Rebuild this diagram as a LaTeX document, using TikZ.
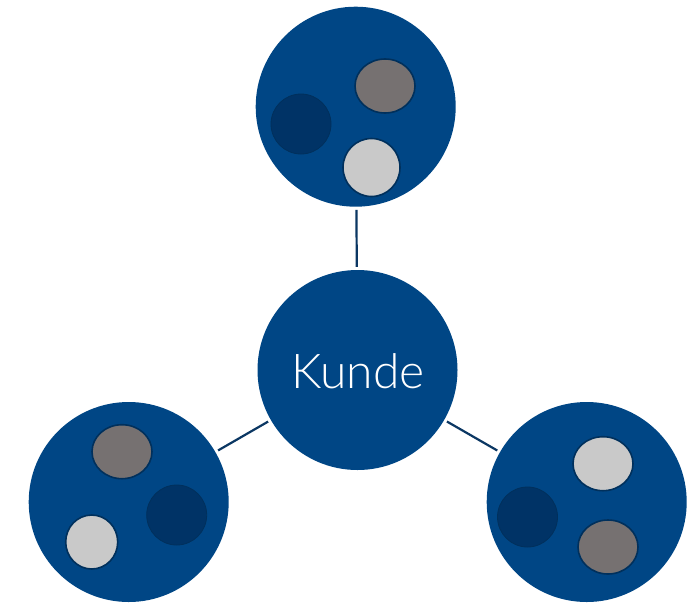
\documentclass[tikz,border=0pt]{standalone}
\usepackage{fontspec}
\newfontfamily\kfont{Lato}[UprightFont={* Light}]
\definecolor{mainblue}{HTML}{004685}
\definecolor{darkblue}{HTML}{003366}
\definecolor{rimblue}{HTML}{00305C}
\definecolor{midgray}{HTML}{767171}
\definecolor{lightgray}{HTML}{C9C9C9}
\definecolor{linkblue}{HTML}{0B3763}
\usetikzlibrary{shapes.geometric}
\begin{document}
\begin{tikzpicture}[x=1pt,y=-1pt,
  big/.style={circle,fill=mainblue,minimum size=200pt,inner sep=0pt},
  darkdot/.style={circle,fill=darkblue,draw=rimblue,line width=0.8pt,minimum size=60pt,inner sep=0pt},
  graydot/.style={ellipse,fill=midgray,draw=rimblue,line width=1.6pt,minimum width=60pt,minimum height=54pt,inner sep=0pt},
  lightdot/.style={ellipse,fill=lightgray,draw=rimblue,line width=1.6pt,minimum width=57pt,minimum height=58pt,inner sep=0pt},
  link/.style={draw=linkblue,line width=2.2pt,shorten <=3pt,shorten >=3pt}]
\useasboundingbox (0,0) rectangle (687,603);
% big circles
\node[big] (top) at (355.7,106.7) {};
\node[big] (ctr) at (357.5,370) {};
\node[big] (bl) at (128.7,502) {};
\node[big] (br) at (586.7,502) {};
\node[text=white,font=\kfont\fontsize{48}{50}\selectfont] (lbl) at (358,371) {Kunde};
% connectors
\draw[link] (top) -- (ctr);
\draw[link] (ctr) -- (bl);
\draw[link] (ctr) -- (br);
% top small circles
\node[darkdot] (t1) at (301,124) {};
\node[graydot] (t2) at (385,86) {};
\node[lightdot,minimum width=57pt,minimum height=58pt] (t3) at (371.5,167.5) {};
% bottom-left small circles
\node[graydot] (l1) at (122,451.7) {};
\node[darkdot] (l2) at (176.7,515) {};
\node[lightdot,minimum width=52pt,minimum height=54pt] (l3) at (91.7,542) {};
% bottom-right small circles
\node[lightdot,minimum width=60pt,minimum height=54pt] (r1) at (603,463.7) {};
\node[darkdot] (r2) at (527.5,517) {};
\node[graydot] (r3) at (608,547) {};
\end{tikzpicture}
\end{document}
